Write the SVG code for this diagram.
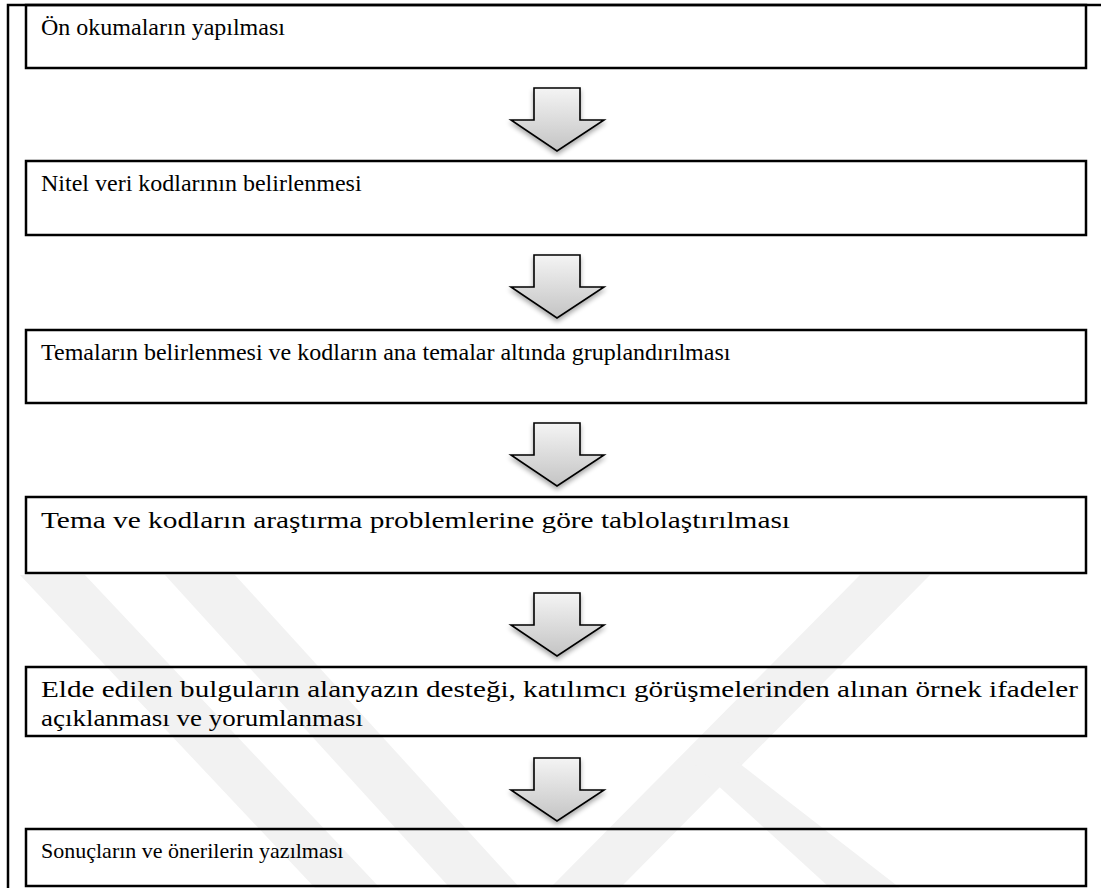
<svg xmlns="http://www.w3.org/2000/svg" width="1102" height="888" viewBox="0 0 1102 888">
<style>
.box{fill:none;stroke:#000;stroke-width:2.5}
.frame{fill:none;stroke:#000;stroke-width:2.5}
.t{font-family:"Liberation Serif","Times New Roman",serif;font-size:24px;fill:#000}
.arr{fill:url(#ag);stroke:#000;stroke-width:1.6;stroke-linejoin:miter;filter:url(#sh)}
.wm{fill:#f2f2f2}
</style>
<defs>
<linearGradient id="ag" x1="0" y1="0" x2="0" y2="1">
<stop offset="0" stop-color="#f4f4f4"/>
<stop offset="1" stop-color="#c4c4c4"/>
</linearGradient>
<filter id="sh" x="-20%" y="-20%" width="140%" height="150%">
<feGaussianBlur in="SourceAlpha" stdDeviation="2.5"/>
<feOffset dx="0" dy="3" result="b"/>
<feComponentTransfer><feFuncA type="linear" slope="0.35"/></feComponentTransfer>
<feMerge><feMergeNode/><feMergeNode in="SourceGraphic"/></feMerge>
</filter>
<path id="arrow" d="M534,0 H580 V32 H604 L557,63 L511,32 H534 Z"/>
</defs>
<rect width="1102" height="888" fill="#fff"/>
<g id="watermark">
<polygon class="wm" points="20,575 85,575 380,888 315,888"/>
<polygon class="wm" points="165,575 235,575 520,888 450,888"/>
<polygon class="wm" points="860,575 930,575 620,888 550,888"/>
<polygon class="wm" points="690,760 735,760 900,888 830,888"/>
</g>
<g id="frame">
<path class="frame" d="M8,888 V5 H1101"/>
</g>
<g id="connectors">
<use href="#arrow" class="arr" transform="translate(0,88)"/>
<use href="#arrow" class="arr" transform="translate(0,255)"/>
<use href="#arrow" class="arr" transform="translate(0,423)"/>
<use href="#arrow" class="arr" transform="translate(0,593)"/>
<use href="#arrow" class="arr" transform="translate(0,758)"/>
</g>
<g id="n1"><rect class="box" x="26" y="5" width="1060" height="63"/><text class="t" x="41" y="35">Ön okumaların yapılması</text></g>
<g id="n2"><rect class="box" x="26" y="161" width="1060" height="74"/><text class="t" x="41" y="191">Nitel veri kodlarının belirlenmesi</text></g>
<g id="n3"><rect class="box" x="26" y="330" width="1060" height="73"/><text class="t" x="41" y="360">Temaların belirlenmesi ve kodların ana temalar altında gruplandırılması</text></g>
<g id="n4"><rect class="box" x="26" y="497" width="1060" height="76"/><text class="t" x="41" y="528" textLength="749" lengthAdjust="spacingAndGlyphs">Tema ve kodların araştırma problemlerine göre tablolaştırılması</text></g>
<g id="n5"><rect class="box" x="26" y="667" width="1060" height="69"/><text class="t" x="41" y="697" textLength="1037" lengthAdjust="spacingAndGlyphs">Elde edilen bulguların alanyazın desteği, katılımcı görüşmelerinden alınan örnek ifadeler</text><text class="t" x="41" y="726" textLength="322" lengthAdjust="spacingAndGlyphs">açıklanması ve yorumlanması</text></g>
<g id="n6"><rect class="box" x="26" y="829" width="1060" height="57"/><text class="t" x="41" y="858" style="font-size:22px">Sonuçların ve önerilerin yazılması</text></g>
</svg>
